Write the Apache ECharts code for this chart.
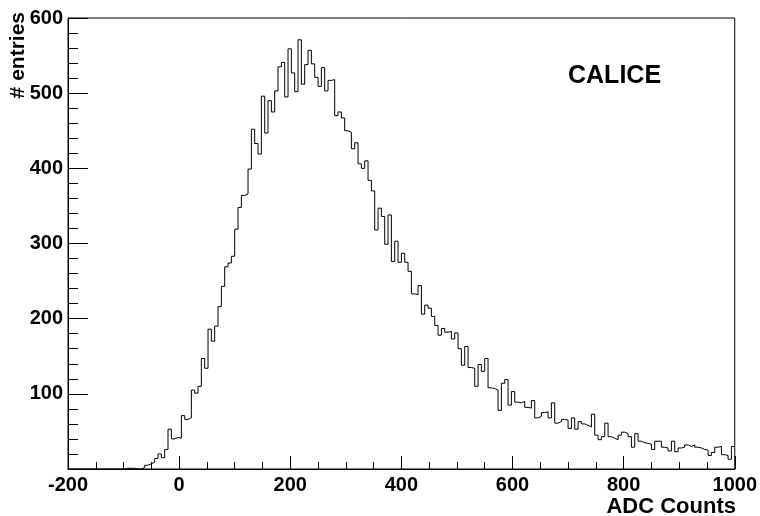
<!DOCTYPE html>
<html lang="en">

<head>
    <meta charset="UTF-8">
    <title>ADC Counts</title>
    <script src="https://cdn.jsdelivr.net/npm/echarts@6/dist/echarts.min.js"></script>
    <style>
        body { margin: 0; background: #fff; }
    </style>
</head>

<body>
    <div id="main" style="width: 760px;height:516px;"></div>
    <script type="text/javascript">

        // histogram binning: 200 bins from -200 to 1000
        let binLow = -200;
        let binHigh = 1000;
        let binWidth = 6;

        // entries per bin
        let counts = [
            0, 0, 0, 0, 0, 0, 0, 0, 0, 0, 0, 0, 0, 0, 0, 0, 0, 1, 1, 1,
            0, 0, 2, 5, 7, 9, 14, 20, 15, 26, 53, 40, 42, 41, 71, 66, 68, 105, 101, 110,
            147, 134, 186, 170, 190, 216, 243, 269, 274, 283, 319, 348, 364, 366, 399, 452, 433, 419, 496, 447,
            490, 475, 503, 535, 541, 495, 559, 527, 502, 571, 512, 538, 557, 539, 521, 509, 534, 503, 517, 518,
            470, 475, 467, 450, 448, 426, 434, 406, 400, 410, 384, 370, 318, 347, 336, 299, 338, 276, 303, 275,
            287, 275, 263, 233, 232, 244, 206, 218, 214, 203, 191, 178, 187, 182, 183, 173, 181, 160, 138, 163,
            135, 134, 110, 139, 130, 147, 108, 107, 105, 78, 114, 119, 85, 103, 89, 88, 90, 82, 81, 91,
            68, 70, 75, 76, 68, 88, 61, 63, 66, 65, 54, 68, 53, 63, 60, 58, 56, 73, 45, 39,
            43, 61, 43, 41, 39, 45, 49, 47, 43, 29, 47, 37, 35, 34, 33, 26, 37, 37, 29, 28,
            24, 37, 23, 28, 29, 32, 30, 32, 29, 28, 26, 25, 18, 22, 29, 30, 19, 18, 13, 30
        ];

        let xTitle = 'ADC Counts';
        let yTitle = '# entries';
        let label = 'CALICE';

        // bin left edges + closing point at the upper edge
        let steps = counts.map(function (c, i) { return [binLow + i * binWidth, c]; });
        steps.push([binHigh, counts[counts.length - 1]]);

        let font = "'Liberation Sans', Arial, sans-serif";

        var myChart = echarts.init(document.getElementById('main'), null, { renderer: 'canvas' });
        option = {
            animation: false,
            backgroundColor: '#fff',
            grid: {
                left: 68,
                right: 25,
                top: 18,
                bottom: 47,
                show: true,
                borderColor: '#000',
                borderWidth: 1
            },
            xAxis: {
                type: 'value',
                min: binLow,
                max: binHigh,
                interval: 200,
                axisLine: { onZero: false, lineStyle: { color: '#000', width: 1 } },
                axisTick: { inside: true, length: 13, lineStyle: { color: '#000' } },
                minorTick: { show: true, splitNumber: 4, length: 7, lineStyle: { color: '#000' } },
                splitLine: { show: false },
                axisLabel: {
                    color: '#000',
                    fontFamily: font,
                    fontWeight: 'bold',
                    fontSize: 20,
                    margin: 6,
                    formatter: function (v) { return String(v); }
                }
            },
            yAxis: {
                type: 'value',
                min: 0,
                max: 600,
                interval: 100,
                axisLine: { show: true, onZero: false, lineStyle: { color: '#000', width: 1 } },
                axisTick: { show: true, inside: true, length: 20, lineStyle: { color: '#000' } },
                minorTick: { show: true, splitNumber: 5, length: 10, lineStyle: { color: '#000' } },
                splitLine: { show: false },
                axisLabel: {
                    color: '#000',
                    fontFamily: font,
                    fontWeight: 'bold',
                    fontSize: 20,
                    margin: 5,
                    showMinLabel: false
                }
            },
            graphic: [
                {
                    type: 'text',
                    x: 736,
                    y: 507,
                    style: {
                        text: xTitle,
                        fill: '#000',
                        font: 'bold 22px ' + font,
                        textAlign: 'right',
                        textVerticalAlign: 'middle'
                    }
                },
                {
                    type: 'text',
                    x: 18,
                    y: 12,
                    rotation: Math.PI / 2,
                    style: {
                        text: yTitle,
                        fill: '#000',
                        font: 'bold 21px ' + font,
                        textAlign: 'right',
                        textVerticalAlign: 'middle'
                    }
                },
                {
                    type: 'text',
                    x: 568,
                    y: 76,
                    style: {
                        text: label,
                        fill: '#000',
                        font: 'bold 25px ' + font,
                        textAlign: 'left',
                        textVerticalAlign: 'middle'
                    }
                }
            ],
            series: [
                {
                    type: 'line',
                    step: 'end',
                    showSymbol: false,
                    symbol: 'none',
                    lineStyle: { color: '#000', width: 1 },
                    data: steps
                }
            ]
        };

        myChart.setOption(option);

    </script>
</body>

</html>
